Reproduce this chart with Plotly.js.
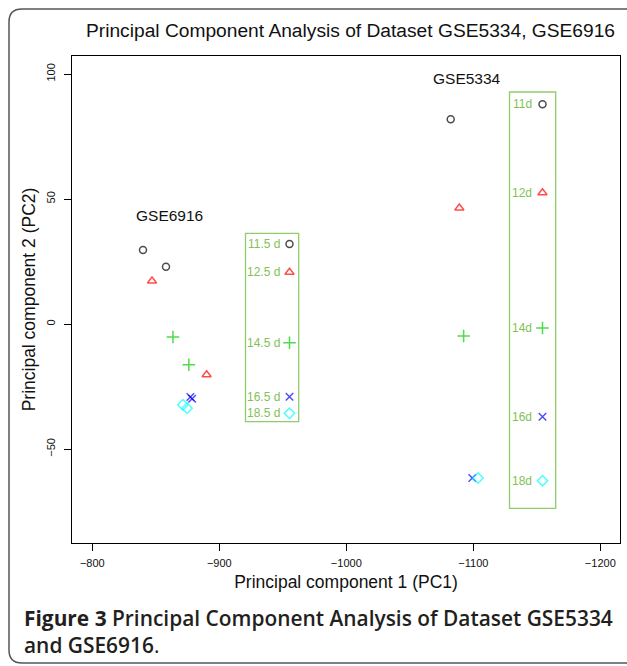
<!DOCTYPE html>
<html>
<head>
<meta charset="utf-8">
<script src="https://cdn.plot.ly/plotly-3.0.1.min.js"></script>
<style>
html,body{margin:0;padding:0;background:#ffffff;}
#chart{width:627px;height:666px;}
</style>
</head>
<body>
<div id="chart"></div>
<script>
// ---------------- data ----------------
const stageLabels6916 = ['11.5 d', '12.5 d', '14.5 d', '16.5 d', '18.5 d'];
const stageLabels5334 = ['11d', '12d', '14d', '16d', '18d'];

const gse6916PC1 = [-839.9, -858.0, -847.0, -890.0, -863.5, -876.0, -877.2, -878.6, -871.3, -874.6];
const gse6916PC2 = [29.6, 22.9, 17.2, -20.3, -5.2, -16.3, -29.2, -29.9, -32.3, -33.7];
const gse6916Stage = [0, 0, 1, 1, 2, 2, 3, 3, 4, 4];

const gse5334PC1 = [-1082.2, -1089.0, -1092.4, -1099.2, -1103.7];
const gse5334PC2 = [81.9, 46.4, -4.8, -61.6, -61.6];
const gse5334Stage = [0, 1, 2, 3, 4];

const xTickVals = [-800, -900, -1000, -1100, -1200];
const yTickVals = [-50, 0, 50, 100];

const chartTitle = 'Principal Component Analysis of Dataset GSE5334, GSE6916';
const xTitle = 'Principal component 1 (PC1)';
const yTitle = 'Principal component 2 (PC2)';
const captionLine1 = '<b>Figure 3</b> Principal Component Analysis of Dataset GSE5334';
const captionLine2 = 'and GSE6916<span style="font-weight:400">.</span>';

// ---------------- styles / layout ----------------
const stageSymbols = ['circle-open', 'triangle-up-open', 'cross-thin-open', 'x-thin-open', 'diamond-open'];
const stageColors = ['#000000', '#ff0000', '#00cd00', '#0000ff', '#00ffff'];
const stageSizes = [7, 8, 9, 7.5, 8];
const legendGreen = '#83c157';
const boxGreen = '#8fcd6c';

const W = 627, H = 666;
const L = 72, R = 620, T = 56, B = 543;      // plot box in pixels
const px = x => (x - L) / (R - L);           // pixel -> paper
const py = y => (B - y) / (B - T);

// legend layout (pixel positions)
const leg1 = {x0: 245.5, x1: 298.7, y0: 233.3, y1: 421.7, textX: 282, markX: 289.5,
              rows: [244, 272.3, 342.7, 396.7, 413.3]};
const leg2 = {x0: 509.5, x1: 555.7, y0: 92, y1: 508.3, textX: 522, markX: 542.5,
              rows: [104.3, 192.7, 328, 416.7, 480.7]};

const font = '"Liberation Sans", Arial, sans-serif';
const capFont = '"Open Sans", "Noto Sans", sans-serif';

function dataTrace(pc1, pc2, stage, name) {
  return {
    type: 'scatter', mode: 'markers', name: name,
    x: pc1, y: pc2,
    marker: {
      symbol: stage.map(s => stageSymbols[s]),
      color: stage.map(s => stageColors[s]),
      size: stage.map(s => stageSizes[s]),
      line: {width: 1.5, color: stage.map(s => stageColors[s])}
    },
    hoverinfo: 'x+y', showlegend: false, cliponaxis: false
  };
}

function legendTrace(leg) {
  return {
    type: 'scatter', mode: 'markers', xaxis: 'x2', yaxis: 'y2',
    x: leg.rows.map(() => leg.markX), y: leg.rows,
    marker: {
      symbol: stageSymbols, color: stageColors, size: stageSizes,
      line: {width: 1.5, color: stageColors}
    },
    hoverinfo: 'skip', showlegend: false, cliponaxis: false
  };
}

const traces = [
  dataTrace(gse6916PC1, gse6916PC2, gse6916Stage, 'GSE6916'),
  dataTrace(gse5334PC1, gse5334PC2, gse5334Stage, 'GSE5334'),
  legendTrace(leg1),
  legendTrace(leg2)
];

const annotations = [];
stageLabels6916.forEach((t, i) => annotations.push({
  xref: 'x2', yref: 'y2', x: leg1.textX, y: leg1.rows[i], text: t, showarrow: false,
  xanchor: 'right', yanchor: 'middle', font: {family: font, size: 12, color: legendGreen}
}));
stageLabels5334.forEach((t, i) => annotations.push({
  xref: 'x2', yref: 'y2', x: leg2.textX, y: leg2.rows[i], text: t, showarrow: false,
  xanchor: 'center', yanchor: 'middle', font: {family: font, size: 12, color: legendGreen}
}));
annotations.push({xref: 'x', yref: 'y', x: -860.8, y: 43.6, text: 'GSE6916', showarrow: false,
  xanchor: 'center', yanchor: 'middle', font: {family: font, size: 15.5, color: '#111'}});
annotations.push({xref: 'x', yref: 'y', x: -1095, y: 98.4, text: 'GSE5334', showarrow: false,
  xanchor: 'center', yanchor: 'middle', font: {family: font, size: 15.5, color: '#111'}});
annotations.push({xref: 'paper', yref: 'paper', x: px(350), y: py(31), text: chartTitle, showarrow: false,
  xanchor: 'center', yanchor: 'middle', font: {family: font, size: 19.2, color: '#111'}});
annotations.push({xref: 'paper', yref: 'paper', x: px(22), y: py(618), text: captionLine1, showarrow: false,
  xanchor: 'left', yanchor: 'middle', font: {family: capFont, size: 20.9, color: '#231f20', weight: 600}});
annotations.push({xref: 'paper', yref: 'paper', x: px(22), y: py(645), text: captionLine2, showarrow: false,
  xanchor: 'left', yanchor: 'middle', font: {family: capFont, size: 20.9, color: '#231f20', weight: 600}});

const r = 13, fx0 = 9, fy0 = 9, fx1 = 660, fy1 = 663;
const framePath = [
  `M${px(fx1)},${py(fy0)}`,
  `L${px(fx0 + r)},${py(fy0)}`,
  `Q${px(fx0)},${py(fy0)} ${px(fx0)},${py(fy0 + r)}`,
  `L${px(fx0)},${py(fy1 - r)}`,
  `Q${px(fx0)},${py(fy1)} ${px(fx0 + r)},${py(fy1)}`,
  `L${px(fx1)},${py(fy1)}`
].join(' ');

const shapes = [
  {type: 'rect', xref: 'x2', yref: 'y2', x0: leg1.x0, x1: leg1.x1, y0: leg1.y0, y1: leg1.y1,
   line: {color: boxGreen, width: 1.3}, fillcolor: 'rgba(0,0,0,0)'},
  {type: 'rect', xref: 'x2', yref: 'y2', x0: leg2.x0, x1: leg2.x1, y0: leg2.y0, y1: leg2.y1,
   line: {color: boxGreen, width: 1.3}, fillcolor: 'rgba(0,0,0,0)'},
  {type: 'path', xref: 'paper', yref: 'paper', path: framePath,
   line: {color: '#555555', width: 1.5}}
];

const layout = {
  width: W, height: H,
  margin: {l: L, r: W - R, t: T, b: H - B, pad: 0},
  paper_bgcolor: '#ffffff', plot_bgcolor: '#ffffff',
  showlegend: false,
  xaxis: {
    range: [-784, -1215.5], tickvals: xTickVals, ticks: 'outside', ticklen: 7, tickwidth: 1,
    tickcolor: '#000', showline: true, mirror: true, linecolor: '#000', linewidth: 1,
    showgrid: false, zeroline: false, ticklabelstandoff: 3,
    tickfont: {family: font, size: 11, color: '#111'},
    title: {text: xTitle, font: {family: font, size: 17.5, color: '#111'}, standoff: 7}
  },
  yaxis: {
    range: [-87.6, 107.2], tickvals: yTickVals, ticks: 'outside', ticklen: 7, tickwidth: 1,
    tickcolor: '#000', showline: true, mirror: true, linecolor: '#000', linewidth: 1,
    showgrid: false, zeroline: false, tickangle: -90, ticklabelstandoff: 5,
    tickfont: {family: font, size: 11, color: '#111'},
    title: {text: yTitle, font: {family: font, size: 17.5, color: '#111'}, standoff: 4}
  },
  xaxis2: {overlaying: 'x', range: [L, R], visible: false, anchor: 'y2'},
  yaxis2: {overlaying: 'y', range: [B, T], visible: false, anchor: 'x2'},
  annotations: annotations,
  shapes: shapes
};

Plotly.newPlot('chart', traces, layout, {displayModeBar: false, staticPlot: true});
</script>
</body>
</html>
